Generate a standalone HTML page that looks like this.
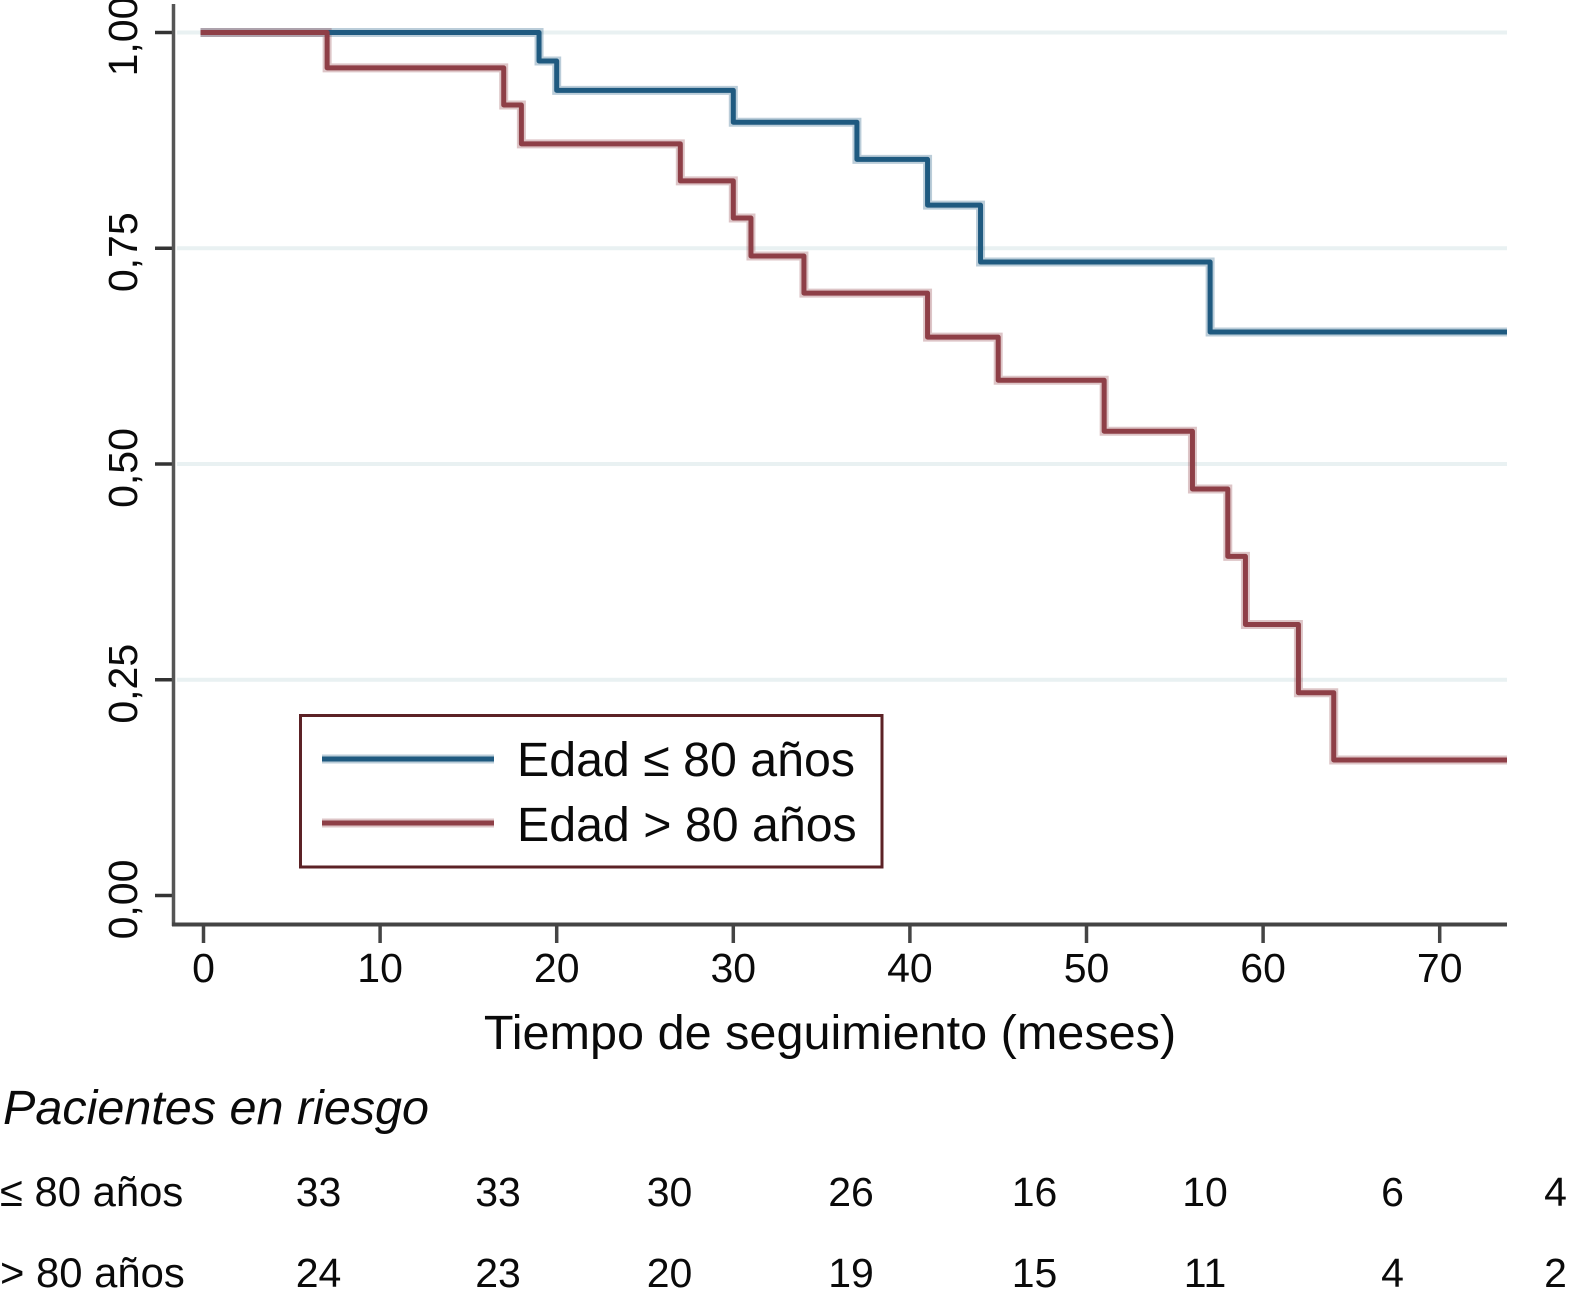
<!DOCTYPE html>
<html lang="es">
<head>
<meta charset="utf-8">
<title>Curva de supervivencia por edad</title>
<style>
html,body{margin:0;padding:0;background:#fff;width:1569px;height:1298px;overflow:hidden}
svg{display:block;font-family:"Liberation Sans",Arial,sans-serif;fill:#0a0a0a}
</style>
</head>
<body>
<svg id="chart" xmlns="http://www.w3.org/2000/svg" width="1569" height="1298" viewBox="0 0 1569 1298">
  <defs>
    <clipPath id="plot-clip"><rect x="175" y="0" width="1332" height="924"></rect></clipPath>
  </defs>
  <rect x="0" y="0" width="1569" height="1298" fill="#ffffff"></rect>
  <g id="grid"></g>
  <g id="curves" clip-path="url(#plot-clip)"></g>
  <g id="axes"></g>

  <g>
    <rect x="300.5" y="715.5" width="581.5" height="151.5" fill="#ffffff" stroke="#5c2226" stroke-width="3"></rect>
    <line x1="322" x2="494" y1="759" y2="759" stroke="#1f5a80" stroke-opacity="0.3" stroke-width="9"></line>
    <line x1="322" x2="494" y1="759" y2="759" stroke="#1f5a80" stroke-width="5"></line>
    <text x="517" y="776" font-size="48.3">Edad ≤ 80 años</text>
    <line x1="322" x2="494" y1="823" y2="823" stroke="#8e3f47" stroke-opacity="0.3" stroke-width="9"></line>
    <line x1="322" x2="494" y1="823" y2="823" stroke="#8e3f47" stroke-width="5"></line>
    <text x="517" y="841" font-size="48.3">Edad &gt; 80 años</text>
  </g>

  <text x="830" y="1049" font-size="48.6" text-anchor="middle">Tiempo de seguimiento (meses)</text>

  <g font-size="41">
    <text x="3" y="1124" font-size="48.5" font-style="italic">Pacientes en riesgo</text>
    <g text-anchor="middle">
      <text x="0" y="1206" text-anchor="start" font-size="41.8">≤ 80 años</text>
      <text x="318.5" y="1206">33</text>
      <text x="498" y="1206">33</text>
      <text x="669.5" y="1206">30</text>
      <text x="851" y="1206">26</text>
      <text x="1034.5" y="1206">16</text>
      <text x="1205" y="1206">10</text>
      <text x="1392.5" y="1206">6</text>
      <text x="1555.5" y="1206">4</text>
    </g>
    <g text-anchor="middle">
      <text x="0" y="1287" text-anchor="start" font-size="41.8">&gt; 80 años</text>
      <text x="318.5" y="1287">24</text>
      <text x="498" y="1287">23</text>
      <text x="669.5" y="1287">20</text>
      <text x="851" y="1287">19</text>
      <text x="1034.5" y="1287">15</text>
      <text x="1205" y="1287">11</text>
      <text x="1392.5" y="1287">4</text>
      <text x="1555.5" y="1287">2</text>
    </g>
  </g>
</svg>
<script>
// Chart data
var xTicks = [0, 10, 20, 30, 40, 50, 60, 70];
var yTicks = [0, 0.25, 0.5, 0.75, 1];
var yTickLabels = ['0,00', '0,25', '0,50', '0,75', '1,00'];

var under80Times = [0, 19, 20, 30, 37, 41, 44, 57, 74];
var under80Survival = [1, 0.967, 0.933, 0.896, 0.853, 0.8, 0.734, 0.653, 0.653];

var over80Times = [0, 7, 17, 18, 27, 30, 31, 34, 41, 45, 51, 56, 58, 59, 62, 64, 74];
var over80Survival = [1, 0.959, 0.916, 0.871, 0.828, 0.785, 0.741, 0.698, 0.647, 0.597, 0.538, 0.471, 0.393, 0.314, 0.235, 0.157, 0.157];

var NS = 'http://www.w3.org/2000/svg';
function xScale(t) { return 203.5 + t * 17.66; }
function yScale(s) { return 895.5 - s * 863; }

function make(parent, tag, props) {
  var el = document.createElementNS(NS, tag);
  for (var k in props) el.setAttribute(k, props[k]);
  parent.appendChild(el);
  return el;
}

// Kaplan-Meier step path: each value holds until the next event time
function stepPath(times, values) {
  var d = 'M' + (xScale(times[0]) - 3) + ' ' + yScale(values[0]);
  for (var i = 1; i < times.length; i++) {
    d += ' H' + xScale(times[i]);
    d += ' V' + yScale(values[i]);
  }
  return d;
}

var gridG = document.getElementById('grid');
var axesG = document.getElementById('axes');
var curvesG = document.getElementById('curves');

yTicks.forEach(function (v, i) {
  if (v > 0) {
    var g = make(gridG, 'line', { x1: 177, x2: 1507, y1: yScale(v), y2: yScale(v), stroke: '#e9f1f2', 'stroke-width': 4 });
    
    
  }
  var t = make(axesG, 'line', { x1: 155, x2: 173, y1: yScale(v), y2: yScale(v), stroke: '#333333', 'stroke-width': 3.5 });
  
  
  var cy = yScale(v) + 4;
  var lab = make(axesG, 'text', { x: 137, y: cy, 'font-size': 41, 'text-anchor': 'middle', transform: 'rotate(-90 137 ' + cy + ')' });
  lab.textContent = yTickLabels[i];
  
  
});

xTicks.forEach(function (v) {
  var t = make(axesG, 'line', { x1: xScale(v), x2: xScale(v), y1: 924, y2: 943, stroke: '#444444', 'stroke-width': 3.5 });
  
  
  var lab = make(axesG, 'text', { x: xScale(v), y: 982, 'font-size': 41, 'text-anchor': 'middle' });
  lab.textContent = String(v);
  
  
});

var yAxis = make(axesG, 'line', { x1: 173.5, x2: 173.5, y1: 4, y2: 926, stroke: '#555555', 'stroke-width': 3.5 });



var xAxis = make(axesG, 'line', { x1: 172, x2: 1507, y1: 924.5, y2: 924.5, stroke: '#444444', 'stroke-width': 4 });



var haloUnder = make(curvesG, 'path', { d: stepPath(under80Times, under80Survival), fill: 'none', stroke: '#1f5a80', 'stroke-opacity': 0.3, 'stroke-width': 9 });



var haloOver = make(curvesG, 'path', { d: stepPath(over80Times, over80Survival), fill: 'none', stroke: '#8e3f47', 'stroke-opacity': 0.3, 'stroke-width': 9 });



var curveUnder = make(curvesG, 'path', { d: stepPath(under80Times, under80Survival), fill: 'none', stroke: '#1f5a80', 'stroke-width': 5, 'stroke-linejoin': 'round' });



var curveOver = make(curvesG, 'path', { d: stepPath(over80Times, over80Survival), fill: 'none', stroke: '#8e3f47', 'stroke-width': 5, 'stroke-linejoin': 'round' });


</script>
</body>
</html>
